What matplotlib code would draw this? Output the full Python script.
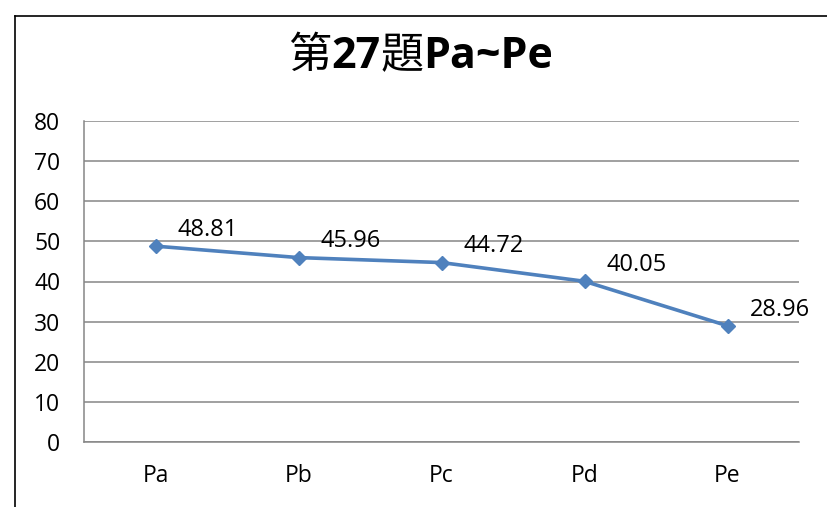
import matplotlib
matplotlib.use("Agg")
import matplotlib.pyplot as plt
from matplotlib.lines import Line2D
from matplotlib.offsetbox import TextArea, HPacker, AnchoredOffsetbox

# data
cats = ['Pa', 'Pb', 'Pc', 'Pd', 'Pe']
vals = [48.81, 45.96, 44.72, 40.05, 28.96]
yticks = [0, 10, 20, 30, 40, 50, 60, 70, 80]

plt.rcParams['font.family'] = ['Open Sans', 'Noto Sans CJK TC', 'DejaVu Sans']

fig = plt.figure(figsize=(8.27, 5.07), dpi=100)
ax = fig.add_axes([84/827, 1-442/507, 715/827, 321/507])

x = list(range(len(cats)))
ax.plot(x, vals, color='#4F81BD', lw=2.6, marker='D', ms=7.5,
        markerfacecolor='#4F81BD', markeredgecolor='#4F81BD', zorder=3)

for xi, v in zip(x, vals):
    ax.annotate(f'{v:.2f}', (xi, v), xytext=(16, 3), textcoords='offset points',
                ha='left', va='bottom', fontsize=17, color='black')

ax.set_xlim(-0.5, len(cats)-0.5)
ax.set_ylim(0, 80)
ax.set_yticks(yticks)
ax.set_xticks(x)
ax.set_xticklabels(cats)
ax.tick_params(axis='both', length=0, labelsize=16.5, colors='black')
ax.tick_params(axis='y', pad=17)
ax.tick_params(axis='x', pad=16)
ax.grid(axis='y', color='#868686', lw=1.1)
ax.set_axisbelow(True)
for s in ['top', 'right']:
    ax.spines[s].set_visible(False)
for s in ['left', 'bottom']:
    ax.spines[s].set_color('#868686')
    ax.spines[s].set_linewidth(1.1)

# title: CJK regular, latin bold
parts = [TextArea('第', textprops=dict(fontsize=31, family='Noto Sans CJK TC')),
         TextArea('27', textprops=dict(fontsize=31, fontweight='bold', family='Open Sans')),
         TextArea('題', textprops=dict(fontsize=31, family='Noto Sans CJK TC')),
         TextArea('Pa~Pe', textprops=dict(fontsize=31, fontweight='bold', family='Open Sans'))]
box = HPacker(children=parts, align='baseline', pad=0, sep=0)
ab = AnchoredOffsetbox(loc='center', child=box, frameon=False,
                       bbox_to_anchor=(421/827, 1-56/507), bbox_transform=fig.transFigure)
fig.add_artist(ab)

# outer chart frame
fig.add_artist(Line2D([15/827, 15/827], [0, 1-16/507], transform=fig.transFigure, color='black', lw=1.2))
fig.add_artist(Line2D([15/827, 1], [1-16/507, 1-16/507], transform=fig.transFigure, color='black', lw=1.2))

fig.savefig('out.png', dpi=100)
